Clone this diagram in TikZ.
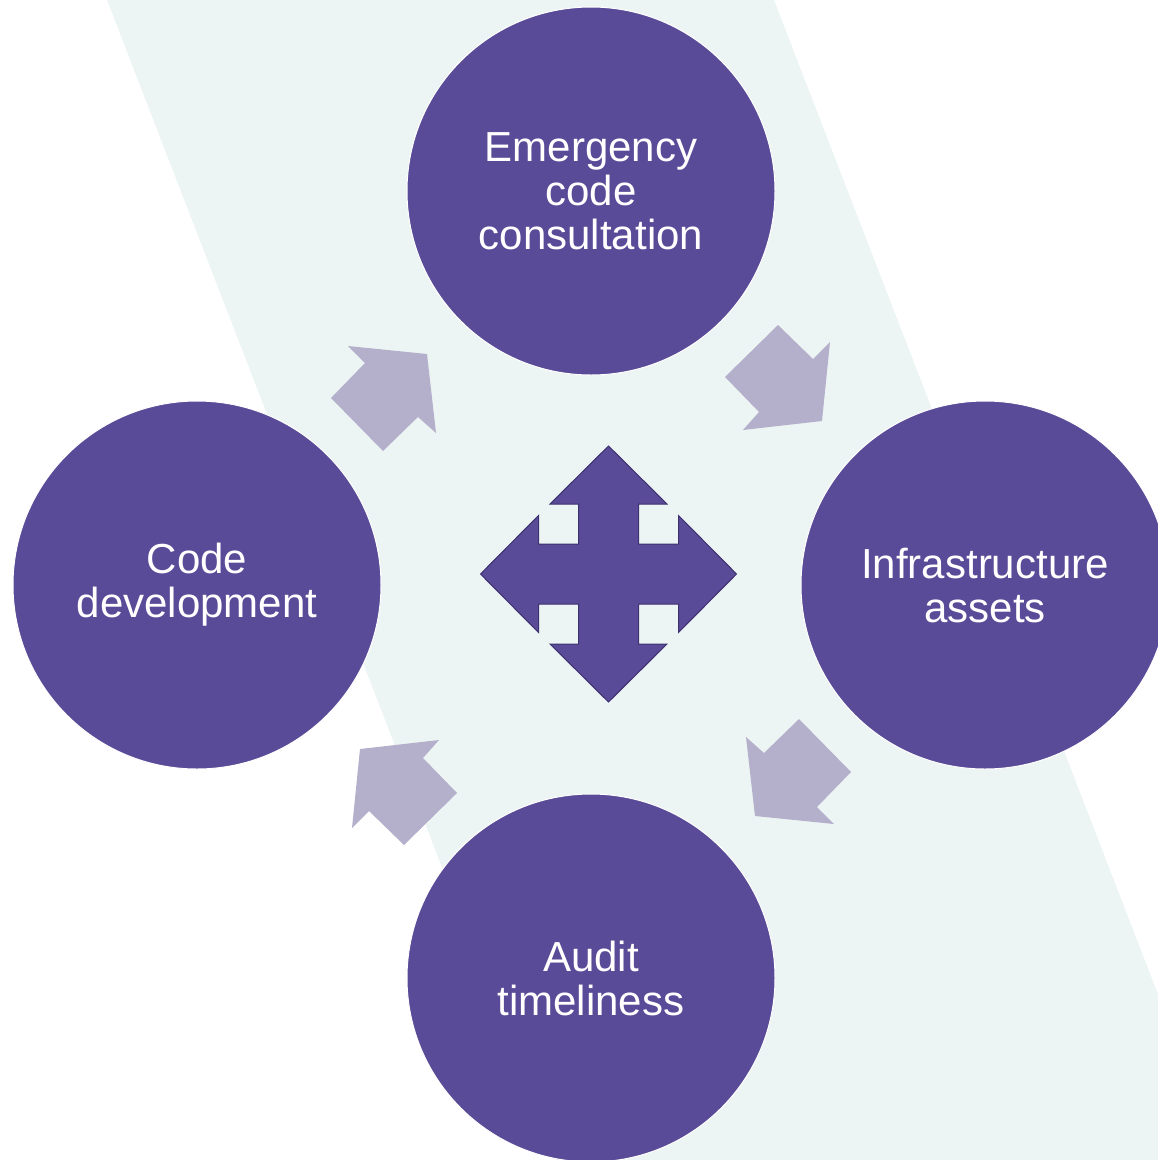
\documentclass[tikz,border=0pt]{standalone}
\usepackage{fontspec}
\setmainfont{Liberation Sans}
\definecolor{bandcol}{HTML}{EDF5F4}
\definecolor{stagecol}{HTML}{5A4B98}
\definecolor{cyccol}{HTML}{B4B0CB}
\definecolor{edgecol}{HTML}{3E3170}
\tikzset{
  stage/.style={circle, fill=stagecol, draw=white, line width=1pt, minimum size=368pt, inner sep=0pt,
    text=white, align=center, font=\fontsize{42pt}{44pt}\selectfont},
  cycarrow/.style={fill=cyccol},
  hub/.style={fill=stagecol, draw=edgecol, line width=1pt, line join=miter}
}
\begin{document}
\begin{tikzpicture}[x=1pt,y=-1pt]
\useasboundingbox (0,0) rectangle (1158,1160);
\clip (0,0) rectangle (1158,1160);
% background band
\fill[bandcol] (107,0) -- (774,0) -- (1222,1160) -- (555,1160) -- cycle;
% cycle arrows
\begin{scope}[shift={(591,585)}]
  \fill[cycarrow] (-243,-239) -- (-164,-231) -- (-155,-152) -- (-173,-168) -- (-208,-134) -- (-260,-187) -- (-226,-222) -- cycle;
  \fill[cycarrow] (239,-243) -- (231,-164) -- (152,-155) -- (168,-173) -- (134,-208) -- (187,-260) -- (222,-226) -- cycle;
  \fill[cycarrow] (243,239) -- (164,231) -- (155,152) -- (173,168) -- (208,134) -- (260,187) -- (226,222) -- cycle;
  \fill[cycarrow] (-239,243) -- (-231,164) -- (-152,155) -- (-168,173) -- (-134,208) -- (-187,260) -- (-222,226) -- cycle;
\end{scope}
% central four-way arrow
\begin{scope}[shift={(608.5,574)}]
  \filldraw[hub] (0,-128) -- (58.5,-70) -- (30,-70) -- (30,-30) -- (70,-30) -- (70,-58.5) -- (128,0)
    -- (70,58.5) -- (70,30) -- (30,30) -- (30,70) -- (58.5,70) -- (0,128)
    -- (-58.5,70) -- (-30,70) -- (-30,30) -- (-70,30) -- (-70,58.5) -- (-128,0)
    -- (-70,-58.5) -- (-70,-30) -- (-30,-30) -- (-30,-70) -- (-58.5,-70) -- cycle;
\end{scope}
% stages
\node[stage] (emerg) at (591,191) {Emergency\\code\\consultation};
\node[stage] (infra) at (985,585) {Infrastructure\\assets};
\node[stage] (audit) at (591,978) {Audit\\timeliness};
\node[stage] (codedev) at (197,585) {Code\\development};
\end{tikzpicture}
\end{document}
